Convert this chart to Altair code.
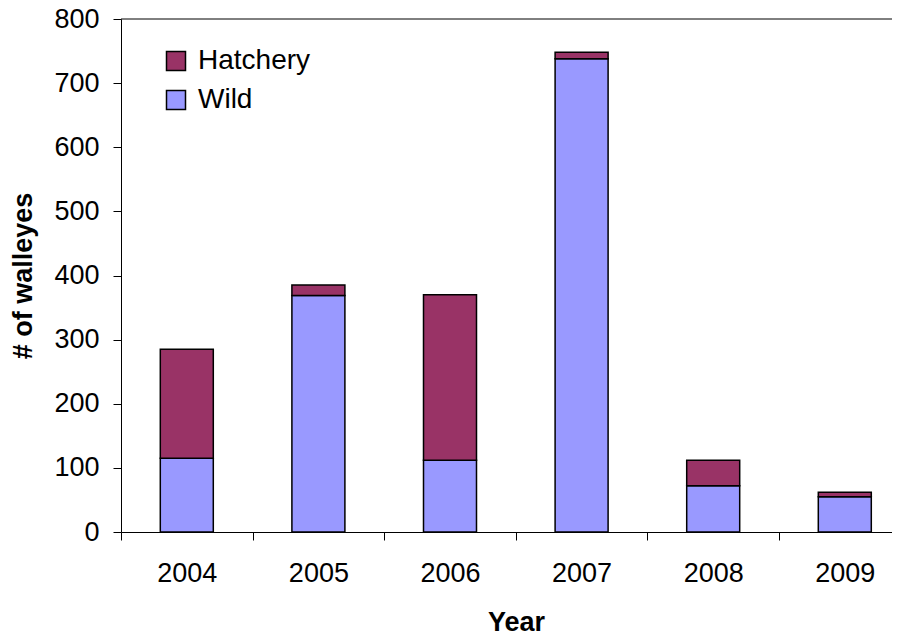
import altair as alt
import pandas as pd

years = [2004, 2005, 2006, 2007, 2008, 2009]
wild = [115, 369, 112, 738, 72, 55]
hatchery = [170, 16, 258, 10, 40, 7]
series = ["Hatchery", "Wild"]
colors = ["#993366", "#9999FF"]
y_ticks = [0, 100, 200, 300, 400, 500, 600, 700, 800]
x_tick_bounds = [2003.5, 2004.5, 2005.5, 2006.5, 2007.5, 2008.5, 2009.5]

rows = []
for i, yr in enumerate(years):
    rows.append({"Year": yr, "Type": "Wild", "Count": wild[i], "ord": 0})
    rows.append({"Year": yr, "Type": "Hatchery", "Count": hatchery[i], "ord": 1})
df = pd.DataFrame(rows)

FONT = "Liberation Sans"
W = 771
STEP = 131.6
x_max = 2003.5 + W / STEP

bars = alt.Chart(df).mark_bar(width=53, stroke="black", strokeWidth=1.5).encode(
    x=alt.X(
        "Year:Q",
        scale=alt.Scale(domain=[2003.5, x_max], nice=False, zero=False, padding=0),
        axis=alt.Axis(
            title="Year",
            values=x_tick_bounds,
            labelExpr="format(datum.value + 0.5, 'd')",
            labelOffset=STEP / 2,
            labelFlush=False,
            labelOverlap=False,
            labelBound=False,
            grid=False,
            labelAngle=0,
            labelFontSize=27,
            labelPadding=20,
            labelColor="black",
            tickSize=8,
            tickColor="black",
            domainColor="black",
            titleFontSize=27,
            titleFontWeight="bold",
            titleColor="black",
            titleX=395,
            titleY=77,
            titleBaseline="top",
            titleAlign="center",
        ),
    ),
    y=alt.Y(
        "Count:Q",
        stack="zero",
        scale=alt.Scale(domain=[0, 800], nice=False, padding=0),
        axis=alt.Axis(
            title="# of walleyes",
            values=y_ticks,
            grid=False,
            labelFontSize=27,
            labelPadding=14,
            labelColor="black",
            tickSize=8,
            tickColor="black",
            domainColor="black",
            titleFontSize=27,
            titleFontWeight="bold",
            titleColor="black",
            titleX=-98,
            titleY=256.5,
            titleBaseline="middle",
            titleAlign="center",
            titleAngle=270,
        ),
    ),
    color=alt.Color(
        "Type:N",
        scale=alt.Scale(domain=series, range=colors),
        legend=alt.Legend(
            title=None,
            orient="none",
            legendX=41,
            legendY=28,
            symbolType="square",
            symbolSize=361,
            symbolStrokeColor="black",
            symbolStrokeWidth=1.5,
            symbolOpacity=1,
            labelFontSize=28,
            labelColor="black",
            labelOffset=8,
            rowPadding=11,
            padding=0,
        ),
    ),
    order=alt.Order("ord:Q", sort="ascending"),
)

top_line = alt.Chart(pd.DataFrame({"a": [0]})).mark_rule(color="black", strokeWidth=1).encode(
    x=alt.value(0), x2=alt.value(W), y=alt.value(0)
)

chart = alt.layer(bars, top_line).properties(
    width=W,
    height=513,
    autosize=alt.AutoSizeParams(type="none"),
    padding={"left": 113, "top": 11, "right": 0, "bottom": 99},
).configure(font=FONT).configure_view(stroke=None)

chart.save("out.html", embed_options={"renderer": "svg", "actions": False})
